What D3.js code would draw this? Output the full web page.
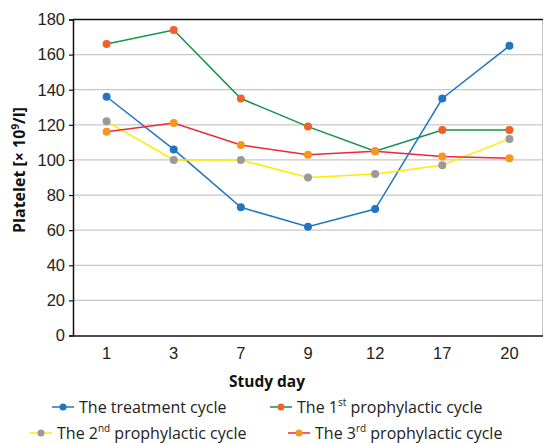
<!DOCTYPE html>
<html><head><meta charset="utf-8">
<script src="https://cdn.jsdelivr.net/npm/d3@7"></script>
<style>body{margin:0;background:#fff}svg{display:block;font-family:"Open Sans","Noto Sans",sans-serif}</style>
</head><body><svg id="c" width="543" height="443"></svg>
<script>
const days = ["1","3","7","9","12","17","20"];
const treatment = [136,106,73,62,72,135,165];
const prophylactic1 = [166,174,135,119,105,117,117];
const prophylactic2 = [122,100,100,90,92,97,112];
const prophylactic3 = [116,121,108.5,103,105,102,101];
const yTicks = [0,20,40,60,80,100,120,140,160,180];

const series = [
  {name:["The treatment cycle"], values:treatment, line:"#2176c3", marker:"#2176c3"},
  {name:["The 1","st"," prophylactic cycle"], values:prophylactic1, line:"#12924a", marker:"#f1612a"},
  {name:["The 2","nd"," prophylactic cycle"], values:prophylactic2, line:"#ffec00", marker:"#9a9a9a"},
  {name:["The 3","rd"," prophylactic cycle"], values:prophylactic3, line:"#ee2836", marker:"#f8951f"}
];

const svg = d3.select("#c");
const L=73, R=543, T=19.5, B=335.5;
const x = d3.scaleBand().domain(days).range([L,R]);
const y = d3.scaleLinear().domain([0,180]).range([B,T]);

svg.append("g").selectAll("line").data(yTicks.filter(d=>d>0&&d<180)).join("line")
  .attr("x1",L).attr("x2",R).attr("y1",d=>y(d)).attr("y2",d=>y(d))
  .attr("stroke","#c8c8c8").attr("stroke-width",1.3);
svg.append("line").attr("x1",R-0.5).attr("x2",R-0.5).attr("y1",T).attr("y2",B).attr("stroke","#c8c8c8").attr("stroke-width",1);
svg.append("line").attr("x1",L).attr("x2",R).attr("y1",T).attr("y2",T).attr("stroke","#111").attr("stroke-width",1.5);

const ya = svg.append("g").attr("transform",`translate(${L},0)`)
  .call(d3.axisLeft(y).tickValues(yTicks).tickSize(4).tickPadding(4));
ya.select(".domain").attr("stroke","#111").attr("stroke-width",1.5);
ya.selectAll(".tick line").attr("stroke","#111").attr("stroke-width",1.2);
ya.selectAll("text").attr("font-size",16.5).attr("fill","#222");

const xa = svg.append("g").attr("transform",`translate(0,${B})`)
  .call(d3.axisBottom(x).tickSize(0).tickPadding(12).tickSizeOuter(0));
xa.select(".domain").attr("stroke","#111").attr("stroke-width",1.5);
xa.selectAll("text").attr("font-size",16.5).attr("fill","#222");

const line = d3.line().x((d,i)=>x(days[i])+x.bandwidth()/2).y(d=>y(d));
series.forEach(s=>{
  svg.append("path").attr("d",line(s.values)).attr("fill","none")
    .attr("stroke",s.line).attr("stroke-width",1.5);
});
series.forEach(s=>{
  svg.append("g").selectAll("circle").data(s.values).join("circle")
    .attr("cx",(d,i)=>x(days[i])+x.bandwidth()/2).attr("cy",d=>y(d))
    .attr("r",4).attr("fill",s.marker);
});

svg.append("text").attr("x",267).attr("y",387).attr("text-anchor","middle")
  .attr("font-size",15.5).attr("font-weight","bold").attr("fill","#111").text("Study day");
const yt = svg.append("text").attr("transform","translate(25,170) rotate(-90)")
  .attr("text-anchor","middle").attr("font-size",16).attr("font-weight","bold").attr("fill","#111");
yt.append("tspan").text("Platelet [× 10");
yt.append("tspan").attr("font-size",10).attr("dy",-6).text("9");
yt.append("tspan").attr("dy",6).text("/l]");

const legPos = [[52,407],[270,407],[30,433],[288,433]];
series.forEach((s,i)=>{
  const [lx,ly]=legPos[i];
  const g = svg.append("g").attr("transform",`translate(${lx},${ly})`);
  g.append("line").attr("x1",0).attr("x2",22).attr("y1",0).attr("y2",0).attr("stroke",s.line).attr("stroke-width",1.5);
  g.append("circle").attr("cx",11).attr("cy",0).attr("r",3.5).attr("fill",s.marker);
  const t = g.append("text").attr("x",27).attr("y",5.5).attr("font-size",16).attr("fill","#222");
  s.name.forEach((p,k)=>{
    if(k===1) t.append("tspan").attr("font-size",10).attr("dy",-7).text(p);
    else if(k===2) t.append("tspan").attr("dy",7).text(p);
    else t.append("tspan").text(p);
  });
});
</script></body></html>
